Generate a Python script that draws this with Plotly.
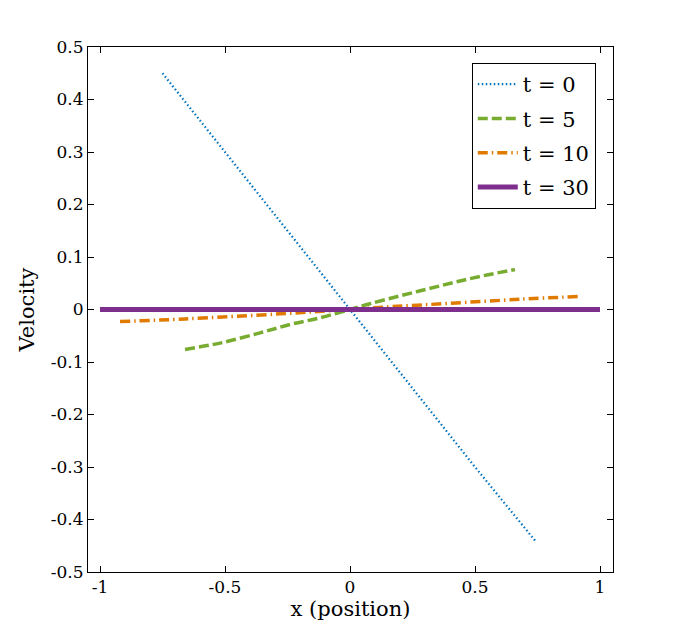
import plotly.graph_objects as go

# t = 0
x_t0 = [-0.75, -0.5, -0.25, 0.0, 0.25, 0.5, 0.74]
v_t0 = [0.45, 0.30, 0.15, 0.0, -0.15, -0.30, -0.44]
# t = 5
x_t5 = [-0.66, -0.52, -0.36, -0.24, -0.12, 0.0, 0.08, 0.2, 0.31, 0.42, 0.53, 0.66]
v_t5 = [-0.076, -0.064, -0.0445, -0.0286, -0.0158, 0.0, 0.011, 0.026, 0.039, 0.052, 0.064, 0.076]
# t = 10
x_t10 = [-0.92, -0.66, -0.28, 0.0, 0.17, 0.39, 0.68, 0.92]
v_t10 = [-0.023, -0.018, -0.0083, 0.0, 0.0055, 0.0115, 0.0195, 0.025]
# t = 30
x_t30 = [-1.0, 1.0]
v_t30 = [0.0, 0.0]

names = ["t = 0", "t = 5", "t = 10", "t = 30"]
x_ticks = [-1, -0.5, 0, 0.5, 1]
x_tick_text = ["-1", "-0.5", "0", "0.5", "1"]
y_ticks = [-0.5, -0.4, -0.3, -0.2, -0.1, 0, 0.1, 0.2, 0.3, 0.4, 0.5]
y_tick_text = ["-0.5", "-0.4", "-0.3", "-0.2", "-0.1", "0", "0.1", "0.2", "0.3", "0.4", "0.5"]

FONT = "DejaVu Serif"

fig = go.Figure()
fig.add_trace(go.Scatter(x=x_t0, y=v_t0, mode="lines", name=names[0], legendgroup="a",
                         line=dict(color="#0072BD", width=2.2, dash="1.5px,2.5px")))
fig.add_trace(go.Scatter(x=x_t5, y=v_t5, mode="lines", name=names[1], legendgroup="b",
                         line=dict(color="#77AC30", width=3.5, dash="10px,4px",
                                   shape="spline", smoothing=1.0)))
fig.add_trace(go.Scatter(x=x_t10, y=v_t10, mode="lines", name=names[2], legendgroup="c",
                         line=dict(color="#E07B00", width=3.5, dash="10px,4px,1.5px,4px",
                                   shape="spline", smoothing=1.0)))
fig.add_trace(go.Scatter(x=x_t30, y=v_t30, mode="lines", name=names[3], legendgroup="d",
                         line=dict(color="#7E2F8E", width=5)))

axis_common = dict(showline=True, linecolor="black", linewidth=1, mirror="ticks",
                   ticks="inside", ticklen=6, tickcolor="black", showgrid=False,
                   zeroline=False, tickfont=dict(family=FONT, size=17, color="black"))

fig.update_layout(
    width=661, height=625,
    margin=dict(l=80, r=56, t=39, b=61),
    paper_bgcolor="white", plot_bgcolor="white",
    font=dict(family=FONT, color="black"),
    xaxis=dict(range=[-1.048, 1.052], tickvals=x_ticks, ticktext=x_tick_text,
               title=dict(text="x (position)", font=dict(family=FONT, size=21), standoff=2),
               **axis_common),
    yaxis=dict(range=[-0.5, 0.5], tickvals=y_ticks, ticktext=y_tick_text,
               title=dict(text="Velocity", font=dict(family=FONT, size=21), standoff=10),
               **axis_common),
    legend=dict(x=0.731, y=0.9695, xanchor="left", yanchor="top",
                bgcolor="white", bordercolor="black", borderwidth=1,
                font=dict(family=FONT, size=21, color="black"),
                itemwidth=40, tracegroupgap=4),
    showlegend=True,
)

fig.write_html("out.html")
